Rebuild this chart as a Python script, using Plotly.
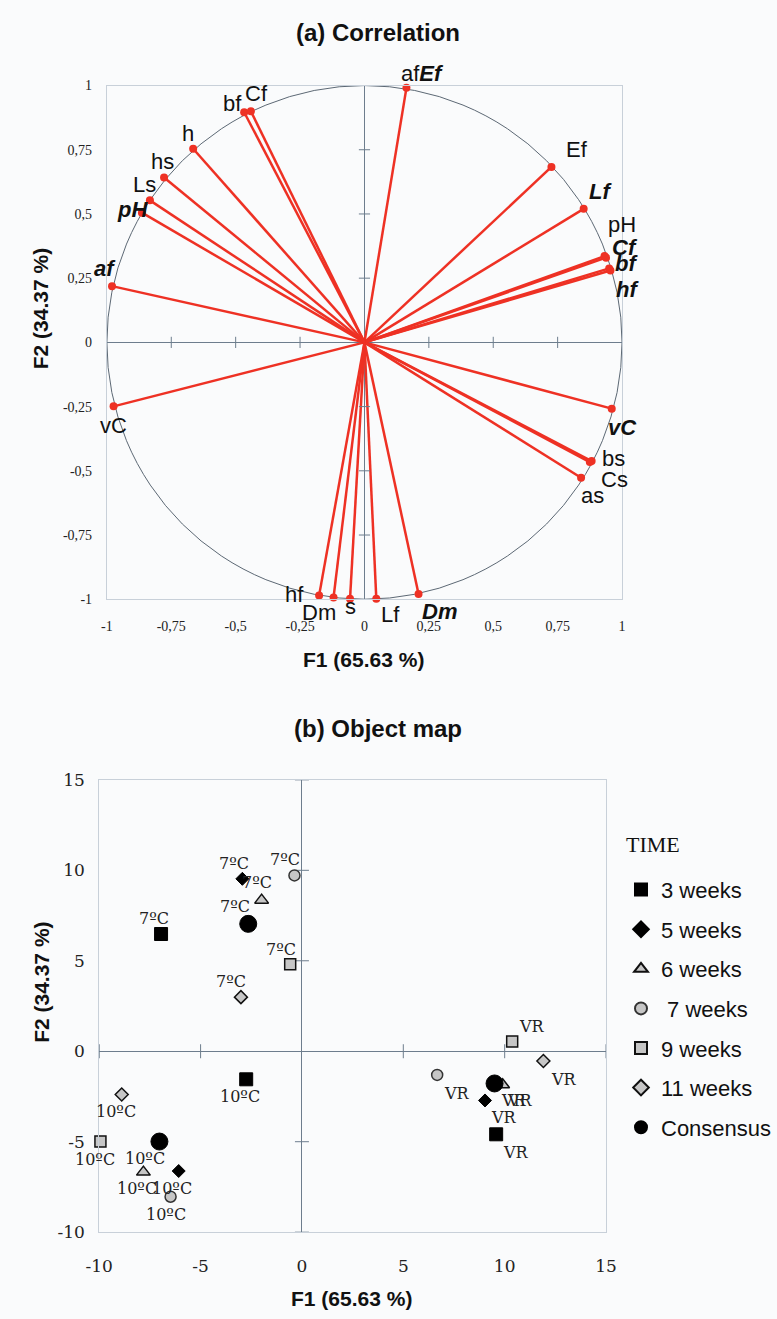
import plotly.graph_objects as go

# ---------------- (a) Correlation circle ----------------
var_labels = ["af<b><i>Ef</i></b>", "Ef", "<b><i>Lf</i></b>", "pH", "<b><i>Cf</i></b>",
              "<b><i>bf</i></b>", "<b><i>hf</i></b>", "<b><i>vC</i></b>", "bs", "Cs", "as",
              "<b><i>Dm</i></b>", "Lf", "s", "Dm", "hf", "vC", "<b><i>af</i></b>",
              "<b><i>pH</i></b>", "Ls", "hs", "h", "bf", "Cf"]
var_f1 = [0.163, 0.726, 0.851, 0.932, 0.938, 0.950, 0.955, 0.960, 0.882, 0.875, 0.841,
          0.210, 0.046, -0.056, -0.120, -0.176, -0.974, -0.980, -0.864, -0.833, -0.778,
          -0.665, -0.467, -0.441]
var_f2 = [0.991, 0.683, 0.520, 0.336, 0.330, 0.288, 0.280, -0.258, -0.462, -0.466, -0.527,
          -0.980, -0.998, -0.998, -0.993, -0.985, -0.249, 0.219, 0.505, 0.553, 0.642,
          0.754, 0.896, 0.900]
ticks_a = [-1, -0.75, -0.5, -0.25, 0, 0.25, 0.5, 0.75, 1]
ticklabels_a = ["-1", "-0,75", "-0,5", "-0,25", "0", "0,25", "0,5", "0,75", "1"]

# ---------------- (b) Object map ----------------
conditions = ["7ºC", "10ºC", "VR"]
groups = ["3 weeks", "5 weeks", "6 weeks", "\u00a07 weeks", "9 weeks", "11 weeks", "Consensus"]
f1_3w = [-6.95, -2.75, 9.58]
f2_3w = [6.48, -1.55, -4.59]
f1_5w = [-2.94, -6.08, 9.03]
f2_5w = [9.53, -6.62, -2.72]
f1_6w = [-1.99, -7.82, 9.90]
f2_6w = [8.35, -6.68, -1.85]
f1_7w = [-0.37, -6.48, 6.67]
f2_7w = [9.72, -8.04, -1.31]
f1_9w = [-0.58, -9.94, 10.37]
f2_9w = [4.81, -4.99, 0.54]
f1_11w = [-3.01, -8.89, 11.91]
f2_11w = [2.99, -2.39, -0.54]
f1_cons = [-2.65, -7.03, 9.50]
f2_cons = [7.04, -4.99, -1.78]
ticks_b = [-10, -5, 0, 5, 10, 15]
ticklabels_b = ["-10", "-5", "0", "5", "10", "15"]
legend_title = "TIME"

group_f1 = [f1_3w, f1_5w, f1_6w, f1_7w, f1_9w, f1_11w, f1_cons]
group_f2 = [f2_3w, f2_5w, f2_6w, f2_7w, f2_9w, f2_11w, f2_cons]

# ---------------- styles ----------------
RED = "#ee3124"
BOX = "#c8d0d9"
ZERO = "#6d7d8d"
BG = "#fafbfc"
SANS = "Liberation Sans, Arial, sans-serif"
SERIF = "Liberation Serif, Times New Roman, serif"
DSERIF = "DejaVu Serif, serif"

# label pixel offsets (dx, dy screen-down) for vector labels
var_label_shift = [(16, -14), (26, -17), (17, -17), (17, -32), (19, -10), (17, -5), (17, 19),
                   (11, 19), (22, -3), (25, 17), (11, 18), (21, 17), (14, 16), (0, 8),
                   (-15, 15), (-25, -1), (0, 19), (-7, -18), (-9, -3), (-5, -16), (-2, -16),
                   (-5, -15), (-12, -9), (6, -18)]

marker_styles = [
    dict(symbol="square", size=13, color="#000000", line=dict(color="#000000", width=1)),
    dict(symbol="diamond", size=10, color="#000000", line=dict(color="#000000", width=1)),
    dict(symbol="triangle-up", size=12, color="#c6c6c6", line=dict(color="#111111", width=1.5)),
    dict(symbol="circle", size=11, color="#c6c6c6", line=dict(color="#333333", width=1.5)),
    dict(symbol="square", size=11, color="#c6c6c6", line=dict(color="#111111", width=1.5)),
    dict(symbol="diamond", size=10, color="#c6c6c6", line=dict(color="#111111", width=1.5)),
    dict(symbol="circle", size=17, color="#000000", line=dict(color="#000000", width=1)),
]
# label offsets per group for [7ºC, 10ºC, VR]
obj_label_shift = [
    [(-7, -16), (-6, 17), (20, 18)],
    [(-8, -15), (-7, 17), (19, 17)],
    [(-5, -18), (-6, 16), (17, 16)],
    [(-9, -16), (-5, 18), (20, 19)],
    [(-9, -15), (-5, 18), (20, -15)],
    [(-10, -16), (-6, 17), (21, 18)],
    [(-13, -17), (-14, 17), (19, 17)],
]

fig = go.Figure()

# vectors
lx, ly = [], []
for x, y in zip(var_f1, var_f2):
    lx += [0, x, None]
    ly += [0, y, None]
fig.add_trace(go.Scatter(x=lx, y=ly, mode="lines", line=dict(color=RED, width=2.5),
                         xaxis="x", yaxis="y", showlegend=False, hoverinfo="skip",
                         cliponaxis=False))
fig.add_trace(go.Scatter(x=var_f1, y=var_f2, mode="markers", marker=dict(color=RED, size=8),
                         xaxis="x", yaxis="y", showlegend=False, hoverinfo="skip",
                         cliponaxis=False))

# tick marks on zero lines (a)
inner_a = [t for t in ticks_a if t not in (-1, 0, 1)]
fig.add_trace(go.Scatter(x=inner_a, y=[0] * len(inner_a), mode="markers",
                         marker=dict(symbol="line-ns", size=8, line=dict(color=ZERO, width=1)),
                         xaxis="x", yaxis="y", showlegend=False, hoverinfo="skip"))
fig.add_trace(go.Scatter(x=[0] * len(inner_a), y=inner_a, mode="markers",
                         marker=dict(symbol="line-ew", size=8, line=dict(color=ZERO, width=1)),
                         xaxis="x", yaxis="y", showlegend=False, hoverinfo="skip"))

# tick marks on zero lines (b)
inner_b = [t for t in ticks_b if t != 0]
fig.add_trace(go.Scatter(x=inner_b, y=[0] * len(inner_b), mode="markers",
                         marker=dict(symbol="line-ns", size=10, line=dict(color=ZERO, width=1)),
                         xaxis="x2", yaxis="y2", showlegend=False, hoverinfo="skip",
                         cliponaxis=False))
fig.add_trace(go.Scatter(x=[0] * len(inner_b), y=inner_b, mode="markers",
                         marker=dict(symbol="line-ew", size=10, line=dict(color=ZERO, width=1)),
                         xaxis="x2", yaxis="y2", showlegend=False, hoverinfo="skip",
                         cliponaxis=False))

# object map markers
for gi, name in enumerate(groups):
    fig.add_trace(go.Scatter(x=group_f1[gi], y=group_f2[gi], mode="markers", name=name,
                             marker=marker_styles[gi], xaxis="x2", yaxis="y2",
                             legendgroup=name, hoverinfo="skip", cliponaxis=False))

annotations = []
for lab, x, y, (dx, dy) in zip(var_labels, var_f1, var_f2, var_label_shift):
    annotations.append(dict(x=x, y=y, xref="x", yref="y", text=lab, showarrow=False,
                            xanchor="center", yanchor="middle", xshift=dx, yshift=-dy,
                            font=dict(family=SANS, size=22, color="#111111")))
for gi in range(len(groups)):
    for ci, cond in enumerate(conditions):
        dx, dy = obj_label_shift[gi][ci]
        annotations.append(dict(x=group_f1[gi][ci], y=group_f2[gi][ci], xref="x2", yref="y2",
                                text=cond, showarrow=False, xanchor="center", yanchor="middle",
                                xshift=dx, yshift=-dy,
                                font=dict(family=DSERIF, size=16, color="#222222")))

W, H = 777, 1319
def px(xp):
    return xp / W
def py(yp):
    return 1 - yp / H

titles = [
    ("<b>(a) Correlation</b>", 380, 23, 24, 0),
    ("<b>F1 (65.63 %)</b>", 365, 660, 21, 0),
    ("<b>F2 (34.37 %)</b>", 28, 303, 21, -90),
    ("<b>(b) Object map</b>", 380, 730, 24, 0),
    ("<b>F1 (65.63 %)</b>", 352, 1308, 21, 0),
    ("<b>F2 (34.37 %)</b>", 28, 987, 21, -90),
]
for t, xx, yy, fs, ang in titles:
    annotations.append(dict(x=px(xx), y=py(yy), xref="paper", yref="paper", text=t,
                            showarrow=False, xanchor="center", yanchor="middle",
                            textangle=ang, font=dict(family=SANS, size=fs, color="#111111")))
# legend heading
annotations.append(dict(x=px(637), y=py(847), xref="paper", yref="paper", text=legend_title,
                        showarrow=False, xanchor="left", yanchor="middle",
                        font=dict(family=SERIF, size=22, color="#111111")))

axis_common = dict(showgrid=False, zeroline=True, zerolinecolor=ZERO, zerolinewidth=1,
                   showline=True, linecolor=BOX, linewidth=1, mirror=True, ticks="",
                   fixedrange=True)

fig.update_layout(
    width=W, height=H, autosize=False,
    margin=dict(l=0, r=0, t=0, b=0),
    paper_bgcolor=BG, plot_bgcolor=BG,
    xaxis=dict(domain=[px(97), px(635)], range=[-1, 1], tickvals=ticks_a,
               ticktext=ticklabels_a, tickfont=dict(family=SERIF, size=14, color="#222"),
               ticklabelstandoff=14, anchor="y", **axis_common),
    yaxis=dict(domain=[py(598.3), py(76.7)], range=[-1, 1], tickvals=ticks_a,
               ticktext=ticklabels_a, tickfont=dict(family=SERIF, size=14, color="#222"),
               ticklabelstandoff=11, anchor="x", **axis_common),
    xaxis2=dict(domain=[px(89), px(618.3)], range=[-10, 15], tickvals=ticks_b,
                ticktext=ticklabels_b, tickfont=dict(family=DSERIF, size=17, color="#222"),
                ticklabelstandoff=18, anchor="y2", **axis_common),
    yaxis2=dict(domain=[py(1241), py(781.7)], range=[-10, 15], tickvals=ticks_b,
                ticktext=ticklabels_b, tickfont=dict(family=DSERIF, size=17, color="#222"),
                ticklabelstandoff=10, anchor="x2", **axis_common),
    shapes=[dict(type="circle", xref="x", yref="y", x0=-1, y0=-1, x1=1, y1=1,
                 line=dict(color="#5c6874", width=1), layer="below")],
    annotations=annotations,
    legend=dict(x=px(634), y=py(872), xanchor="left", yanchor="top",
                bgcolor="rgba(0,0,0,0)", borderwidth=0,
                font=dict(family=SANS, size=22, color="#111111"),
                itemsizing="constant", traceorder="grouped", tracegroupgap=8),
    showlegend=True,
)

fig.write_html("out.html", config={"displayModeBar": False},
               post_script="document.body.style.margin='0';")
